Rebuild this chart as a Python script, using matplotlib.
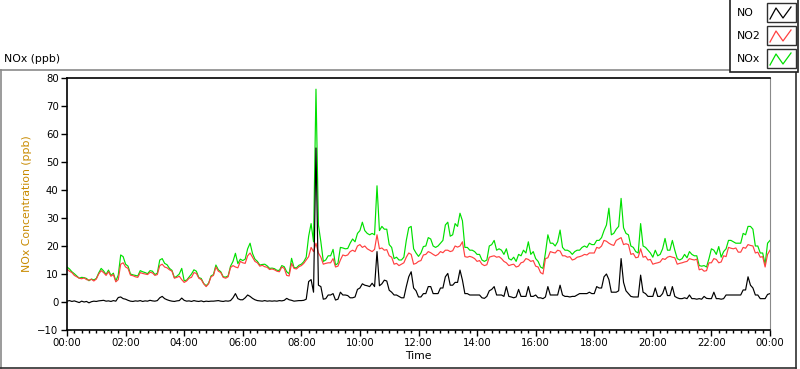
import numpy as np
import matplotlib
matplotlib.use("Agg")
import matplotlib.pyplot as plt
from matplotlib.ticker import MultipleLocator, FuncFormatter

plt.rcParams["font.family"] = ["DejaVu Sans"]

# 5-minute readings, 00:00 .. 24:00 (one row per hour)
no2 = [
    11.8, 11.0, 10.5, 9.5, 9.0, 8.5, 8.3, 8.6, 8.0, 7.8, 8.1, 7.5,
    8.2, 10.0, 11.2, 10.5, 9.5, 10.8, 9.2, 9.8, 7.2, 8.0, 13.5, 14.0,
    12.5, 12.0, 9.6, 9.4, 9.0, 8.8, 10.5, 10.2, 10.0, 9.8, 10.6, 10.4,
    9.5, 9.8, 13.0, 13.5, 12.5, 12.2, 11.5, 11.0, 8.5, 8.8, 9.2, 8.0,
    7.0, 7.5, 8.5, 8.8, 10.5, 10.2, 8.5, 8.0, 6.5, 5.5, 6.5, 9.0,
    9.5, 12.5, 11.0, 10.5, 8.8, 8.5, 9.0, 12.3, 13.0, 12.5, 12.2, 14.5,
    14.0, 13.8, 16.5, 17.5, 16.0, 14.5, 14.0, 12.8, 13.1, 12.6, 12.4, 11.6,
    11.8, 11.5, 11.0, 10.8, 12.5, 12.0, 9.5, 9.3, 13.8, 12.0, 11.8, 12.6,
    13.0, 13.8, 15.0, 16.2, 19.5, 18.0, 21.0, 17.5, 16.0, 13.5, 13.8, 14.0,
    14.0, 15.5, 12.5, 12.8, 15.0, 16.8, 16.5, 16.8, 18.0, 18.5, 18.0, 20.0,
    20.5, 19.5, 20.0, 19.0, 18.5, 18.0, 18.8, 24.0, 19.0, 19.3, 18.5, 18.7,
    16.5, 16.0, 13.5, 13.8, 13.0, 13.5, 14.0, 16.0, 17.5, 17.0, 13.5, 13.8,
    14.5, 14.8, 16.8, 17.0, 18.0, 17.6, 17.0, 16.5, 17.0, 18.0, 17.6, 18.5,
    18.5, 18.0, 18.3, 20.0, 19.6, 20.0, 21.5, 16.2, 16.0, 16.3, 16.0, 15.5,
    14.5, 14.8, 13.5, 13.0, 13.3, 16.0, 16.3, 16.5, 16.0, 16.2, 15.5, 14.5,
    14.0, 13.0, 13.3, 13.5, 12.5, 12.8, 14.0, 14.3, 15.5, 15.2, 14.5, 14.8,
    12.8, 12.5, 10.5, 10.0, 15.5, 15.8, 18.0, 17.7, 17.5, 18.5, 18.2, 16.5,
    16.5, 16.0, 16.2, 15.0, 15.3, 16.0, 16.2, 16.5, 17.0, 16.8, 17.5, 17.5,
    17.5, 19.5, 19.2, 20.0, 22.0, 21.7, 21.0, 20.5, 20.2, 22.0, 22.5, 23.0,
    20.5, 20.8, 20.5, 17.0, 17.3, 15.8, 16.0, 19.0, 16.0, 16.3, 15.0, 15.2,
    13.5, 13.8, 14.0, 14.3, 15.5, 15.2, 16.0, 16.3, 16.0, 15.8, 13.5, 13.8,
    14.0, 14.3, 14.5, 15.5, 15.2, 15.0, 15.3, 11.5, 11.8, 11.0, 11.2, 14.0,
    14.0, 15.5, 15.2, 14.0, 14.3, 16.5, 16.2, 19.5, 19.2, 19.0, 19.3, 17.8,
    17.8, 19.5, 19.2, 20.5, 20.2, 20.0, 17.5, 17.8, 16.0, 16.2, 12.5, 17.0,
    18.5,
]

no = [
    0.3, 0.5, 0.2, 0.4, 0.1, -0.2, 0.3, 0.0, 0.2, -0.3, 0.1, 0.3,
    0.2, 0.4, 0.5, 0.6, 0.3, 0.4, 0.2, 0.5, 0.3, 1.6, 1.8, 1.2,
    1.0, 0.6, 0.3, 0.2, 0.4, 0.3, 0.5, 0.2, 0.4, 0.3, 0.6, 0.4,
    0.3, 0.5, 1.5, 2.0, 1.2, 0.8, 0.5, 0.3, 0.2, 0.4, 0.5, 1.4,
    0.6, 0.3, 0.4, 0.2, 0.5, 0.3, 0.2, 0.4, 0.1, 0.3, 0.2, 0.3,
    0.3, 0.4, 0.5, 0.3, 0.2, 0.4, 0.3, 0.5, 1.5, 3.0, 1.2, 0.8,
    0.8, 1.5, 2.5, 2.0, 1.3, 0.8, 0.5, 0.4, 0.3, 0.5, 0.3, 0.4,
    0.3, 0.4, 0.3, 0.5, 0.4, 0.6, 1.3, 0.8, 0.6, 0.3, 0.4, 0.5,
    0.5, 0.6, 1.0, 7.3, 8.0, 3.5, 55.0, 6.0, 5.5, 1.0, 1.2, 2.5,
    2.5, 3.0, 0.7, 1.0, 3.5, 2.5, 2.5, 2.3, 1.5, 1.5, 1.8, 4.5,
    5.0, 6.5, 6.0, 5.8, 5.5, 6.7, 5.5, 18.0, 5.8, 6.5, 7.8, 7.5,
    4.2, 3.5, 2.5, 2.5, 2.0, 1.5, 1.5, 5.5, 9.0, 10.8, 5.0, 4.0,
    1.8, 1.8, 3.0, 3.0, 5.5, 5.5, 3.0, 3.0, 3.0, 5.0, 5.0, 9.0,
    10.2, 6.0, 6.0, 7.0, 7.0, 11.4, 7.8, 3.0, 3.0, 2.5, 2.5, 2.5,
    2.5, 2.5, 1.5, 1.3, 2.0, 4.0, 4.5, 5.5, 2.5, 2.5, 2.5, 2.0,
    5.5, 2.0, 1.8, 1.5, 1.8, 4.5, 2.0, 2.0, 2.0, 5.5, 2.0, 2.0,
    2.5, 1.5, 1.5, 1.2, 1.8, 5.5, 2.5, 2.5, 2.5, 2.5, 6.0, 2.5,
    2.0, 2.0, 1.8, 2.0, 2.0, 2.5, 3.0, 3.0, 3.0, 3.0, 3.5, 3.0,
    3.0, 5.5, 5.0, 5.0, 9.0, 10.0, 8.0, 3.5, 3.5, 3.5, 4.0, 15.5,
    7.0, 4.0, 3.0, 2.0, 1.8, 1.8, 1.8, 9.6, 3.5, 3.0, 2.0, 2.0,
    2.0, 5.0, 2.0, 2.0, 3.0, 5.5, 2.3, 2.3, 5.5, 2.0, 1.5, 1.2,
    1.2, 1.5, 1.2, 2.5, 1.2, 1.2, 1.0, 1.2, 1.0, 2.0, 1.3, 1.2,
    1.2, 3.5, 1.2, 1.2, 1.0, 1.2, 2.5, 2.5, 2.5, 2.5, 2.5, 2.5,
    2.5, 4.3, 4.3, 9.0, 6.0, 5.0, 2.5, 2.5, 1.2, 1.2, 1.2, 2.7,
    3.0,
]

nox = [
    12.5, 11.8, 10.8, 10.1, 9.3, 8.5, 8.8, 8.7, 8.4, 7.6, 8.2, 7.9,
    8.4, 10.4, 12.0, 11.1, 9.8, 11.4, 9.5, 10.3, 7.5, 9.6, 16.8, 16.2,
    13.5, 12.8, 10.0, 9.7, 9.5, 9.3, 11.2, 10.8, 10.5, 10.1, 11.2, 11.0,
    9.8, 10.3, 15.0, 15.5, 13.8, 13.3, 12.0, 11.3, 8.7, 9.2, 10.0, 12.0,
    7.6, 7.8, 8.9, 10.0, 11.5, 11.0, 8.7, 8.4, 6.6, 5.8, 6.7, 9.3,
    9.8, 13.2, 11.5, 10.8, 9.0, 8.9, 9.3, 12.8, 14.5, 17.4, 13.7, 15.3,
    14.8, 15.3, 19.0, 21.0, 17.3, 15.3, 14.5, 13.2, 13.4, 13.5, 12.9, 12.0,
    12.1, 11.9, 11.3, 11.3, 13.0, 12.6, 10.8, 10.1, 15.6, 12.3, 12.2, 13.1,
    13.5, 14.4, 16.0, 23.5, 28.0, 21.5, 76.0, 27.5, 21.5, 14.5, 15.0, 16.5,
    16.5, 18.8, 13.2, 13.8, 19.5, 19.3, 19.0, 19.1, 21.0, 22.5, 21.5, 24.5,
    25.5, 28.5, 25.5, 24.5, 24.0, 24.5, 24.0, 41.5, 25.5, 27.0, 26.0, 26.0,
    20.5, 19.5, 15.5, 16.0, 15.0, 15.0, 16.0, 22.0, 26.5, 27.0, 19.0, 17.5,
    16.3, 17.5, 19.8, 20.0, 23.0, 22.5, 20.0, 19.5, 20.0, 21.0, 22.0, 27.5,
    28.5, 23.5, 24.0, 28.0, 27.0, 31.7, 29.0, 19.5, 19.5, 18.5, 18.5, 18.0,
    17.0, 17.0, 15.0, 14.5, 15.0, 20.0, 20.5, 22.0, 18.5, 19.0, 18.5, 17.0,
    19.0, 15.5, 15.0, 16.0, 14.5, 17.0, 16.5, 18.5, 17.5, 21.5, 17.0, 18.0,
    15.5, 14.5, 12.5, 12.0, 17.5, 24.0, 21.0, 21.0, 20.0, 21.5, 25.7, 19.5,
    18.5, 18.5, 18.0, 17.0, 18.0, 18.5, 18.5, 19.5, 20.0, 19.5, 21.0, 20.5,
    20.5, 22.0, 22.0, 23.0, 25.5, 27.5, 33.5, 24.0, 24.5, 26.0, 27.0, 37.0,
    26.5, 24.5, 24.0, 20.0, 19.5, 18.0, 17.5, 28.0, 20.0, 19.5, 18.5, 17.5,
    16.0, 18.5, 16.5, 17.0, 19.0, 22.7, 18.5, 18.5, 22.0, 18.5, 15.5, 15.0,
    15.5, 17.0, 15.8, 18.0, 17.0, 16.5, 16.5, 13.0, 12.8, 13.0, 12.5, 15.5,
    19.0, 18.5, 17.0, 19.8, 16.0, 18.0, 19.0, 22.0, 22.0, 21.5, 21.0, 21.0,
    21.0, 24.5, 24.0, 27.0, 27.0, 26.0, 20.0, 20.0, 17.5, 17.5, 13.5, 21.0,
    22.0,
]

series_names = ["NO", "NO2", "NOx"]
series_colors = ["#000000", "#FF4040", "#00E000"]

hours = np.arange(len(no2)) * 5 / 60.0

W, H = 800, 369
fig = plt.figure(figsize=(W / 100, H / 100), dpi=100)

# background overlay in pixel coordinates (frame, title)
ov = fig.add_axes([0, 0, 1, 1], zorder=0)
ov.set_xlim(0, W)
ov.set_ylim(H, 0)
ov.axis("off")
ov.plot([0, 730], [69.5, 69.5], color="#8a8a8a", lw=1.2)
ov.plot([0.6, 0.6], [69.5, 368], color="#8a8a8a", lw=1.2)
ov.plot([0, 796], [368, 368], color="#303030", lw=1.2)
ov.plot([796, 796], [72, 368], color="#303030", lw=1.2)
ov.text(4, 59, "NOx (ppb)", fontsize=7.8, va="center", ha="left")

ax = fig.add_axes([67 / W, 1 - 330 / H, 703 / W, 252 / H], zorder=1)
ax.plot(hours, nox, color=series_colors[2], lw=0.85)
ax.plot(hours, no2, color=series_colors[1], lw=0.85)
ax.plot(hours, no, color=series_colors[0], lw=0.85)

ax.set_xlim(0, 24)
ax.set_ylim(-10, 80)
ax.yaxis.set_major_locator(MultipleLocator(10))
ax.xaxis.set_major_locator(MultipleLocator(2))
ax.xaxis.set_minor_locator(MultipleLocator(0.25))
ax.xaxis.set_major_formatter(FuncFormatter(lambda v, p: "%02d:00" % (int(round(v)) % 24)))
ax.tick_params(axis="both", which="major", labelsize=7.3, direction="out", width=1, length=4, pad=2)
ax.tick_params(axis="x", which="minor", direction="out", width=1, length=2.5)
for s in ["left", "top", "bottom"]:
    ax.spines[s].set_color("black")
    ax.spines[s].set_linewidth(1.2)
ax.spines["right"].set_color("#8a8a8a")
ax.set_ylabel("NOx Concentration (ppb)", fontsize=7.8, color="#C88A00", labelpad=4)
ax.set_xlabel("Time", fontsize=7.8, labelpad=2)

# legend box, top right
lg = fig.add_axes([0, 0, 1, 1], zorder=2)
lg.set_xlim(0, W)
lg.set_ylim(H, 0)
lg.axis("off")
lg.add_patch(plt.Rectangle((730, -2), 68, 74, facecolor="white", edgecolor="#202020", lw=1.2))
for i, (name, col) in enumerate(zip(series_names, series_colors)):
    y0 = 3 + i * 23
    lg.text(737, y0 + 10, name, fontsize=7.8, va="center", ha="left")
    lg.add_patch(plt.Rectangle((767, y0), 29, 19, facecolor="white", edgecolor="#303030", lw=1.0))
    lg.plot([770, 776, 783, 791], [y0 + 16, y0 + 5, y0 + 15, y0 + 4], color=col, lw=0.9)

fig.savefig("out.png", dpi=100)
